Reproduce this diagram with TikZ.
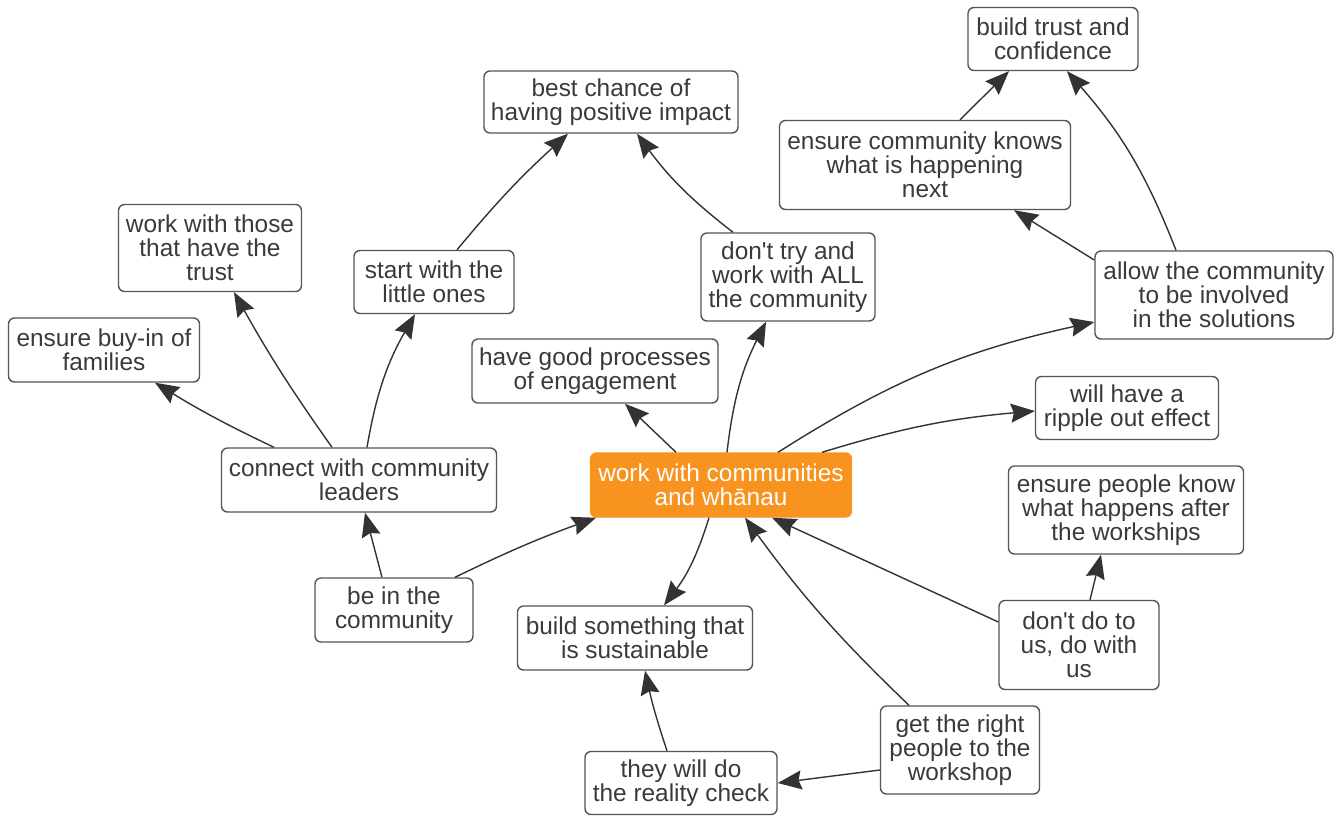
\documentclass[tikz,border=0pt]{standalone}
\usepackage{fontspec}
\setmainfont{Liberation Sans}
\usetikzlibrary{arrows.meta}
\definecolor{txt}{HTML}{3A3A3A}
\definecolor{edge}{HTML}{555555}
\definecolor{arr}{HTML}{333333}
\definecolor{orng}{HTML}{F7931E}
\tikzset{
  box/.style={draw=edge, line width=1.4pt, rounded corners=6pt, fill=white, text=txt,
    align=center, inner sep=0pt, font=\fontsize{24.4}{24}\selectfont},
  hub/.style={box, draw=orng, fill=orng, text=white},
  link/.style={draw=arr, line width=1.4pt, -{Stealth[length=24pt,width=19pt,inset=3pt]}}
}
\begin{document}
\begin{tikzpicture}[x=1pt,y=-1pt]
\useasboundingbox[fill=white] (0,0) rectangle (1335,815);
\node[box, minimum width=170pt, minimum height=63pt] (n1) at (1053,39) {build trust and\\confidence};
\node[box, minimum width=254pt, minimum height=62pt] (n2) at (611,102) {best chance of\\having positive impact};
\node[box, minimum width=291pt, minimum height=89pt] (n3) at (925,165) {ensure community knows\\what is happening\\next};
\node[box, minimum width=183pt, minimum height=87pt] (n4) at (210,248) {work with those\\that have the\\trust};
\node[box, minimum width=160pt, minimum height=63pt] (n5) at (434,282) {start with the\\little ones};
\node[box, minimum width=174pt, minimum height=88pt] (n6) at (788,277) {don\textquotesingle t try and\\work with ALL\\the community};
\node[box, minimum width=238pt, minimum height=88pt] (n7) at (1214,295) {allow the community\\to be involved\\in the solutions};
\node[box, minimum width=191pt, minimum height=64pt] (n8) at (104,350) {ensure buy-in of\\families};
\node[box, minimum width=246pt, minimum height=64pt] (n9) at (595,371) {have good processes\\of engagement};
\node[box, minimum width=183pt, minimum height=63pt] (n10) at (1127,408) {will have a\\ripple out effect};
\node[box, minimum width=275pt, minimum height=64pt] (n11) at (359,480) {connect with community\\leaders};
\node[hub, minimum width=261pt, minimum height=64pt] (n12) at (721,485) {work with communities\\and whānau};
\node[box, minimum width=235pt, minimum height=88pt] (n13) at (1126,510) {ensure people know\\what happens after\\the workships};
\node[box, minimum width=158pt, minimum height=64pt] (n14) at (394,610) {be in the\\community};
\node[box, minimum width=235pt, minimum height=64pt] (n15) at (635,638) {build something that\\is sustainable};
\node[box, minimum width=160pt, minimum height=89pt] (n16) at (1079,645) {don\textquotesingle t do to\\us, do with\\us};
\node[box, minimum width=159pt, minimum height=88pt] (n17) at (960,750) {get the right\\people to the\\workshop};
\node[box, minimum width=192pt, minimum height=63pt] (n18) at (681,783) {they will do\\the reality check};

\draw[link] ([xshift=-85pt]n11.north) to[bend left=3] ([xshift=51pt]n8.south);
\draw[link] ([xshift=-27pt]n11.north) to[bend left=3] ([xshift=24pt]n4.south);
\draw[link] ([xshift=8pt]n11.north) to[bend left=10] ([xshift=-19pt]n5.south);
\draw[link] ([xshift=-12pt]n14.north) -- ([xshift=6pt]n11.south);
\draw[link] ([xshift=61pt]n14.north) to[bend left=3] ([xshift=-125pt]n12.south);
\draw[link] ([xshift=23pt]n5.north) to[bend left=4] ([xshift=-43pt]n2.south);
\draw[link] ([xshift=-55pt]n6.north) to[bend left=8] ([xshift=26pt]n2.south);
\draw[link] ([xshift=6pt]n12.north) to[bend left=10] ([xshift=-22pt]n6.south);
\draw[link] ([xshift=-45pt]n12.north) -- ([xshift=30pt]n9.south);
\draw[link] ([xshift=57pt]n12.north) to[bend left=10] ([yshift=-27pt]n7.west);
\draw[link] ([xshift=101pt]n12.north) to[bend left=6] ([yshift=-3pt]n10.west);
\draw[link] ([yshift=35pt]n7.west) -- ([xshift=89pt]n3.south);
\draw[link] ([xshift=-38pt]n7.north) to[bend right=10] ([xshift=14pt]n1.south);
\draw[link] ([xshift=35pt]n3.north) -- ([xshift=-44pt]n1.south);
\draw[link] ([xshift=-12pt]n12.south) to[bend left=10] ([xshift=29pt]n15.north);
\draw[link] ([yshift=23pt]n16.west) -- ([xshift=51pt]n12.south);
\draw[link] ([xshift=11pt]n16.north) -- ([xshift=-25pt]n13.south);
\draw[link] ([xshift=-51pt]n17.north) to[bend left=5] ([xshift=24pt]n12.south);
\draw[link] ([yshift=-20pt]n17.west) -- (n18.east);
\draw[link] ([xshift=-14pt]n18.north) to[bend left=3] ([xshift=10pt]n15.south);
\end{tikzpicture}
\end{document}
